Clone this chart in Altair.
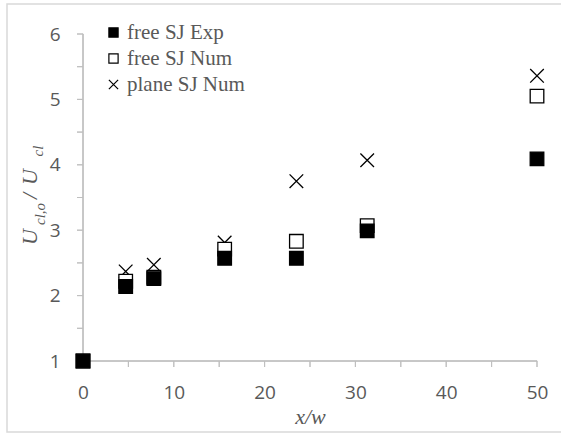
import altair as alt
import pandas as pd

# ---- data ----
x_pos = [0, 4.7, 7.8, 15.6, 23.5, 31.3, 50]
free_exp = [1.0, 2.14, 2.26, 2.57, 2.57, 2.99, 4.09]
free_num = [1.0, 2.22, 2.28, 2.71, 2.83, 3.07, 5.05]
plane_num = [1.0, 2.37, 2.47, 2.81, 3.75, 4.07, 5.36]
series_names = ["free SJ Exp", "free SJ Num", "plane SJ Num"]
draw_order = {"plane SJ Num": 0, "free SJ Num": 1, "free SJ Exp": 2}
x_ticks = list(range(0, 51, 5))
y_ticks = [1 + 0.5 * i for i in range(11)]

rows = []
for name, vals in zip(series_names, [free_exp, free_num, plane_num]):
    for xv, yv in zip(x_pos, vals):
        rows.append({"series": name, "x": xv, "y": yv, "z": draw_order[name]})
df = pd.DataFrame(rows)

GRAY_TXT = "#595959"
AXIS_C = "#bfbfbf"
W, H = 454, 327
cross = "M-1,-1L1,1M-1,1L1,-1"

xscale = alt.Scale(domain=[0, 50], nice=False, zero=False)
yscale = alt.Scale(domain=[1, 6], nice=False, zero=False)

axis_common = dict(domain=False, ticks=False, grid=False,
                   labelFont="Open Sans", labelFontSize=19, labelColor=GRAY_TXT,
                   labelFlush=False, labelOverlap=False)

points = alt.Chart(df).mark_point(opacity=1, size=185, strokeWidth=1.3).encode(
    x=alt.X("x:Q", scale=xscale,
            axis=alt.Axis(values=x_ticks,
                          labelExpr="datum.value % 10 == 0 ? format(datum.value, 'd') : ''",
                          title="x/w", titleFont="Liberation Serif",
                          titleFontStyle="italic", titleFontWeight="normal",
                          titleFontSize=22, titleColor=GRAY_TXT,
                          titleX=W / 2, titleY=62, titleBaseline="alphabetic",
                          titleAlign="center",
                          labelPadding=22, **axis_common)),
    y=alt.Y("y:Q", scale=yscale,
            axis=alt.Axis(values=y_ticks,
                          labelExpr="datum.value % 1 == 0 ? format(datum.value, 'd') : ''",
                          title=None, labelPadding=23, **axis_common)),
    shape=alt.Shape("series:N", title=None,
                    scale=alt.Scale(domain=series_names, range=["square", "square", cross])),
    fill=alt.Fill("series:N", title=None,
                  scale=alt.Scale(domain=series_names, range=["black", "white", "transparent"])),
    stroke=alt.Stroke("series:N", title=None,
                      scale=alt.Scale(domain=series_names, range=["black", "black", "black"])),
    order=alt.Order("z:Q"),
)

one = alt.Data(values=[{}])

# axis lines and ticks as thin stroked rectangles (same technique as the visible frame)
line_style = dict(fill=AXIS_C, stroke=AXIS_C, strokeWidth=1, opacity=1)
x_domain = alt.Chart(one).mark_rect(**line_style).encode(
    x=alt.value(0), x2=alt.value(W), y=alt.value(H - 0.25), y2=alt.value(H + 0.25))
y_domain = alt.Chart(one).mark_rect(**line_style).encode(
    x=alt.value(-0.25), x2=alt.value(0.25), y=alt.value(0), y2=alt.value(H))
tick_df_x = pd.DataFrame({"t": x_ticks})
tick_df_y = pd.DataFrame({"t": y_ticks})
x_tick_marks = alt.Chart(tick_df_x).mark_rect(**line_style).encode(
    x=alt.X("t:Q", scale=xscale), x2="t:Q", y=alt.value(H), y2=alt.value(H + 6))
y_tick_marks = alt.Chart(tick_df_y).mark_rect(**line_style).encode(
    y=alt.Y("t:Q", scale=yscale), y2="t:Q", x=alt.value(-6), x2=alt.value(0))

def piece(txt, fs, xabs, yabs):
    return alt.Chart(one).mark_text(
        text=txt, font="Liberation Serif", fontStyle="italic", fontSize=fs,
        angle=270, align="center", baseline="alphabetic", color=GRAY_TXT,
    ).encode(x=alt.value(xabs - 83), y=alt.value(yabs - 34))

ytitle = [
    piece("U", 22, 37, 237),
    piece("cl,o", 15, 45, 214),
    piece("/", 22, 37, 196),
    piece("U", 22, 37, 177),
    piece("cl", 15, 43, 151),
]

border = alt.Chart(one).mark_rect(fill="transparent", stroke="#d9d9d9", strokeWidth=1.5).encode(
    x=alt.value(7 - 83), x2=alt.value(600 - 83), y=alt.value(4 - 34), y2=alt.value(432 - 34)
)

chart = alt.layer(border, x_tick_marks, y_tick_marks, x_domain, y_domain, points, *ytitle).properties(
    width=W, height=H,
    autosize=alt.AutoSizeParams(type="none"),
    padding={"left": 83, "top": 34, "right": 24, "bottom": 73},
).configure_view(stroke=None).configure_legend(
    orient="none", legendX=20, legendY=-12, labelFont="Liberation Serif",
    labelFontSize=21, labelColor=GRAY_TXT, symbolSize=85,
    symbolStrokeWidth=1.2, rowPadding=4, labelOffset=3, padding=0,
)

chart.save("out.html", embed_options={"renderer": "svg", "actions": False})
